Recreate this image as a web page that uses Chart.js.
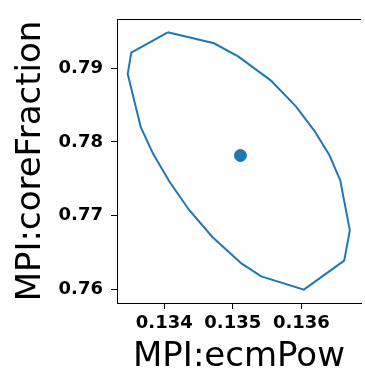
<!DOCTYPE html>
<html>
<head>
<meta charset="utf-8">
<script src="https://cdn.jsdelivr.net/npm/chart.js@4/dist/chart.umd.min.js"></script>
<style>
  html, body { margin: 0; padding: 0; background: #fff; overflow: hidden; }
  #wrap { width: 365px; height: 374px; overflow: hidden; }
</style>
</head>
<body>
<div id="wrap"><canvas id="ellipseChart" width="368" height="374"></canvas></div>
<script>
// contorno da região de confiança (fechado no primeiro ponto)
const contourX = [
  0.134051, 0.134726, 0.135083, 0.135557, 0.135923, 0.136188, 0.136412,
  0.136568, 0.136707, 0.136625, 0.136037, 0.135415, 0.135130, 0.134702,
  0.134360, 0.134075, 0.133838, 0.133658, 0.133467, 0.133520, 0.134051,
];
const contourY = [
  0.794885, 0.793392, 0.791574, 0.788317, 0.784790, 0.781533, 0.778141,
  0.774749, 0.767965, 0.763853, 0.759919, 0.761723, 0.763446, 0.767069,
  0.770773, 0.774613, 0.778372, 0.781995, 0.789227, 0.792117, 0.794885,
];
// ponto central
const centerX = [0.135111];
const centerY = [0.778141];

const xTicks = [0.134, 0.135, 0.136];
const yTicks = [0.76, 0.77, 0.78, 0.79];

const blue = "#1f77b4";
const toPoints = (xs, ys) => xs.map((x, i) => ({ x: x, y: ys[i] }));

// desenha a linha superior da moldura
const frameTop = {
  id: "frameTop",
  afterDraw(chart) {
    const { ctx, chartArea } = chart;
    ctx.save();
    ctx.strokeStyle = "#000";
    ctx.lineWidth = 1;
    ctx.beginPath();
    ctx.moveTo(chartArea.left, chartArea.top + 0.5);
    ctx.lineTo(chartArea.right, chartArea.top + 0.5);
    ctx.stroke();
    ctx.restore();
  },
};

const tickFont = { family: "'DejaVu Sans'", size: 18, weight: "bold" };
const titleFont = { family: "'DejaVu Sans'", size: 34, lineHeight: 1 };

new Chart(document.getElementById("ellipseChart").getContext("2d"), {
  type: "scatter",
  data: {
    datasets: [
      {
        data: toPoints(contourX, contourY),
        showLine: true,
        borderColor: blue,
        borderWidth: 2,
        pointRadius: 0,
        fill: false,
        tension: 0,
      },
      {
        data: toPoints(centerX, centerY),
        backgroundColor: blue,
        borderColor: blue,
        pointRadius: 6,
      },
    ],
  },
  options: {
    responsive: false,
    animation: false,
    layout: { padding: { top: 19, right: 1, left: 0, bottom: 0 } },
    plugins: { legend: { display: false }, tooltip: { enabled: false } },
    scales: {
      x: {
        type: "linear",
        min: 0.133311,
        max: 0.13687,
        afterBuildTicks: (scale) => { scale.ticks = xTicks.map((v) => ({ value: v })); },
        afterFit: (scale) => { scale.height = 71; },
        ticks: {
          color: "#000",
          font: tickFont,
          padding: 4,
          maxRotation: 0,
          callback: (v) => v.toFixed(3),
        },
        grid: { drawOnChartArea: false, drawTicks: true, tickLength: 6, color: "#000" },
        border: { display: true, color: "#000", width: 1 },
        title: { display: true, text: "MPI:ecmPow", color: "#000", font: titleFont, padding: { top: 0, bottom: 0 } },
      },
      y: {
        type: "linear",
        min: 0.7581,
        max: 0.79669,
        afterBuildTicks: (scale) => { scale.ticks = yTicks.map((v) => ({ value: v })); },
        afterFit: (scale) => { scale.width = 117; },
        ticks: {
          color: "#000",
          font: tickFont,
          padding: 8,
          callback: (v) => v.toFixed(2),
        },
        grid: { drawOnChartArea: false, drawTicks: true, tickLength: 6, color: "#000" },
        border: { display: true, color: "#000", width: 1 },
        title: { display: true, text: "MPI:coreFraction", color: "#000", font: titleFont, padding: { top: 14, bottom: 0 } },
      },
    },
  },
  plugins: [frameTop],
});
</script>
</body>
</html>
